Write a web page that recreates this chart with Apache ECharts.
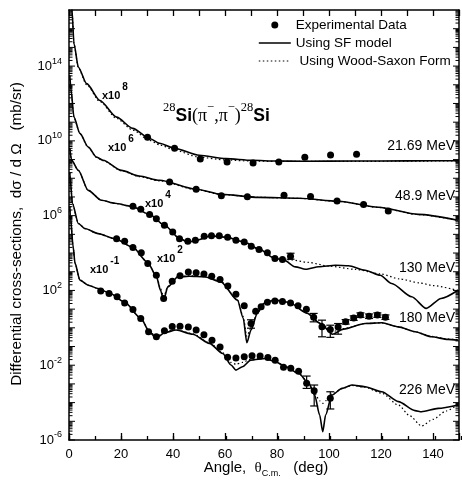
<!DOCTYPE html>
<html><head><meta charset="utf-8">
<script src="https://cdn.jsdelivr.net/npm/echarts@6/dist/echarts.min.js"></script>
<style>html,body{margin:0;padding:0;background:#fff}#c{width:462px;height:481px}</style>
</head><body><div id="c"></div>
<script>
// ---- Data: [angle (deg), log10(dσ/dΩ in mb/sr, incl. plotted scale factor)] ----
const sf21 = [[0.5,18.5],[1.15,17.0],[1.9,15.21],[3.6,13.94],[6.8,13.06],[11.9,12.16],[18.3,11.27],[24.5,10.67],[31,10.13],[34.8,9.87],[40.6,9.60],[50.1,9.23],[60.4,9.05],[70.4,8.96],[80,8.92],[90,8.91],[110,8.92],[130,8.93],[150,8.94]];
const ws21 = [[0.5,18.5],[1.15,17.0],[1.9,15.2],[3.6,13.9],[6.8,13.0],[11.9,12.1],[18.3,11.2],[24.5,10.58],[31,10.03],[35,9.78],[40.6,9.5],[50,9.13],[60,8.98],[70,8.92],[80,8.9],[100,8.9],[150,8.93]];
const exp21 = [[30.2,10.19],[40.6,9.60],[50.5,9.03],[60.8,8.87],[70.8,8.82],[80.7,8.87],[90.7,9.13],[100.6,9.24],[110.6,9.29]];

const sf48 = [[0.3,13.5],[0.8,12.70],[1.9,11.27],[4.2,10.40],[7.4,9.67],[10.6,9.13],[13.1,8.96],[20.2,8.42],[27,8.12],[34.8,7.89],[49,7.41],[58.6,7.14],[73,6.98],[88.4,6.93],[103.7,6.77],[119,6.45],[134.3,6.07],[149.6,5.75]];
const ws48 = [[0.3,13.5],[0.8,12.68],[1.9,11.25],[4.2,10.38],[7.4,9.65],[10.6,9.11],[13.1,8.94],[20.2,8.40],[27,8.09],[34.8,7.86],[49,7.39],[58.6,7.13],[73,6.98],[88.4,6.92],[103.7,6.76],[119,6.44],[134.3,6.06],[149.6,5.74]];
const exp48 = [[38.7,7.80],[48.9,7.41],[58.6,7.06],[68.6,7.01],[82.7,7.09],[92.9,7.03],[103.1,6.78],[113.3,6.59],[122.8,6.25]];

const sf130 = [[0.3,9.6],[1.0,8.96],[3.6,8.42],[7.4,7.35],[12.5,6.82],[17.6,6.66],[24.0,6.50],[31.0,6.07],[36.7,5.49],[42.5,4.79],[45.7,4.58],[48.6,4.66],[54.7,4.92],[60.8,4.84],[67.4,4.58],[73.1,4.20],[79.2,3.72],[82.7,3.62],[87.1,3.26],[91.0,3.13],[96.1,3.27],[102.5,3.35],[107.5,3.32],[113.9,3.08],[119.7,2.81],[124.1,2.37],[131.8,1.66],[137.4,1.04],[143.1,1.57],[149.6,2.01]];
const ws130 = [[0.3,9.6],[1.0,8.96],[3.6,8.42],[7.4,7.35],[12.5,6.82],[17.6,6.66],[24.0,6.50],[31.0,6.07],[36.7,5.49],[42.5,4.79],[45.7,4.6],[48.6,4.68],[54.7,4.92],[60.8,4.84],[67.4,4.6],[73.1,4.22],[79.2,3.75],[85,3.64],[92,3.5],[100,3.3],[110,3.13],[120,2.88],[127,2.62],[135,2.4],[140,2.26],[150,1.98]];
const exp130 = [[24.6,6.50],[27.6,6.34],[31.0,6.06],[33.6,5.84],[36.7,5.49],[39.9,5.13],[42.5,4.77],[45.7,4.63],[48.6,4.68],[52.0,4.90],[54.8,4.92],[57.8,4.92],[61.0,4.84],[64.2,4.68],[67.4,4.59],[70.1,4.36],[73.1,4.19],[76.3,4.01],[79.2,3.71],[82.1,3.65],[85.2,3.83]];

const sf180 = [[0.3,8.3],[0.5,7.89],[1.3,6.66],[3.6,5.58],[6.1,5.31],[11.2,5.04],[17.6,4.77],[24.5,4.31],[30.2,3.51],[33.6,2.76],[35.2,2.01],[36.4,1.48],[38.0,2.19],[41.8,2.72],[46.3,2.76],[52.0,2.73],[58.4,2.46],[64.8,1.48],[67.0,0.52],[68.4,-0.80],[70.0,-0.12],[72.4,0.77],[75.0,1.30],[78.8,1.48],[84.6,1.37],[91.5,0.78],[96.7,0.23],[101.4,-0.34],[105.6,-0.07],[113.9,0.23],[120.3,0.27],[126.7,0.05],[133.1,-0.21],[139.4,-0.48],[145.8,-0.62],[149.6,-0.66]];
const ws180 = [[0.3,8.3],[0.5,7.89],[1.3,6.66],[3.6,5.58],[6.1,5.31],[11.2,5.04],[17.6,4.77],[24.5,4.31],[30.2,3.51],[33.6,2.78],[35.2,2.1],[36.4,1.65],[38.0,2.22],[41.8,2.73],[46.3,2.78],[52.0,2.75],[58.4,2.48],[64.8,1.5],[67.0,0.6],[68.4,-0.45],[70.0,0.0],[72.4,0.8],[75.0,1.31],[78.8,1.48],[84.6,1.37],[91.5,0.8],[96.7,0.26],[101.4,-0.2],[105.6,-0.04],[113.9,0.23],[120.3,0.27],[126.7,0.05],[133.1,-0.21],[139.4,-0.46],[145.8,-0.6],[149.6,-0.64]];
const exp180 = [[18.3,4.77],[21.4,4.63],[24.6,4.29],[27.8,4.01],[30.3,3.44],[33.6,2.81],[36.4,1.57],[39.7,2.49],[42.7,2.79],[45.9,2.99],[48.9,2.95],[51.9,2.88],[54.9,2.76],[58.1,2.58],[61.1,2.24],[64.2,1.80],[67.4,1.18],[70.0,0.23],[71.8,0.89],[73.9,1.13],[76.3,1.37],[79.2,1.43],[82.1,1.41],[85.2,1.33],[88.1,1.18],[91.3,1.0],[94.1,0.57],[97.3,0.06],[100.5,-0.09],[103.5,0.04],[106.4,0.32],[109.5,0.52],[112.1,0.68],[115.4,0.62],[118.6,0.68],[121.7,0.57]];

const sf226 = [[0.3,6.5],[0.5,6.02],[1.6,4.33],[2.3,3.46],[4.2,2.55],[7.4,2.28],[11.2,2.10],[15.7,1.85],[21.4,1.37],[27.6,0.52],[31.0,-0.23],[33.6,-0.55],[36.7,-0.26],[41.2,-0.12],[47.6,-0.34],[54.0,-0.83],[59.1,-1.37],[62.3,-1.99],[64.2,-2.26],[66.7,-2.08],[69.9,-1.73],[75.7,-1.64],[79.5,-1.82],[83.3,-2.08],[88.4,-2.44],[92.2,-2.97],[94.5,-3.60],[96.4,-4.66],[97.6,-5.56],[98.7,-4.66],[101.1,-3.60],[105.0,-3.24],[108.8,-3.06],[113.9,-3.15],[120.3,-3.42],[126.7,-3.95],[133.1,-4.43],[135.6,-4.49],[142.0,-4.31],[149.6,-4.13]];
const ws226 = [[0.3,6.5],[0.5,6.02],[1.6,4.33],[2.3,3.46],[4.2,2.55],[7.4,2.28],[11.2,2.10],[15.7,1.85],[21.4,1.37],[27.6,0.52],[31.0,-0.2],[33.6,-0.48],[36.7,-0.22],[41.2,-0.1],[47.6,-0.32],[54.0,-0.8],[59.1,-1.33],[62.3,-1.85],[64.2,-1.95],[66.7,-1.85],[69.9,-1.68],[75.7,-1.63],[79.5,-1.82],[83.3,-2.08],[88.4,-2.44],[92.2,-2.97],[94.5,-3.5],[96.4,-3.9],[97.6,-4.04],[98.7,-3.9],[101.1,-3.55],[105.0,-3.26],[108.8,-3.08],[113.9,-3.18],[120.3,-3.5],[126.7,-4.13],[131,-4.7],[135.6,-5.25],[140,-4.9],[145,-4.45],[149.6,-4.08]];
const exp226 = [[12.2,1.97],[15.4,1.84],[18.5,1.66],[21.4,1.33],[24.6,0.98],[27.6,0.50],[30.6,-0.21],[33.6,-0.48],[36.7,-0.16],[39.7,0.07],[42.7,0.09],[45.9,0.05],[48.9,-0.11],[51.9,-0.37],[55.0,-0.66],[58.1,-1.02],[61.0,-1.58],[64.2,-1.61],[67.4,-1.55],[70.4,-1.49],[73.5,-1.51],[76.5,-1.59],[79.3,-1.74],[82.5,-2.11],[85.3,-2.16],[88.3,-2.32],[91.4,-2.96],[94.3,-3.37],[100.5,-3.77]];

// error bars: [angle, low, high] (log10)
const errBars = [[85.2,3.67,3.99],
  [70.0,-0.02,0.43],[94.1,0.32,0.77],[97.3,-0.48,0.41],[100.5,-0.51,0.14],[103.5,-0.34,0.23],
  [106.4,0.2,0.44],[109.5,0.4,0.64],[112.1,0.56,0.8],[115.4,0.5,0.74],[118.6,0.56,0.8],[121.7,0.45,0.69],
  [91.4,-3.24,-2.58],[94.3,-4.18,-3.06],[100.5,-4.34,-3.42]];

const energyLabels = ['21.69 MeV','48.9 MeV','130 MeV','180 MeV','226 MeV'];
const scaleExps = ['8','6','4','2','-1'];
const yLabelExps = [-6,-2,2,6,10,14];
const seriesNames = ['Experimental Data','Using SF model',' Using Wood-Saxon Form'];

const FONT = 'Liberation Sans, Arial, sans-serif';
const SERIF = 'Liberation Serif, Times New Roman, serif';
const BLACK = '#000';

const sets = [
  {sf:sf21, ws:ws21, exp:exp21},
  {sf:sf48, ws:ws48, exp:exp48},
  {sf:sf130, ws:ws130, exp:exp130},
  {sf:sf180, ws:ws180, exp:exp180},
  {sf:sf226, ws:ws226, exp:exp226}
];

const series = [];
sets.forEach(s => {
  series.push({name:seriesNames[0], type:'scatter', data:s.exp, symbol:'circle', symbolSize:7,
    itemStyle:{color:BLACK, opacity:1}, z:6, silent:true});
});
sets.forEach(s => {
  series.push({name:seriesNames[1], type:'line', data:s.sf, symbol:'none', showSymbol:false,
    smooth:0.25, smoothMonotone:'x',
    lineStyle:{color:BLACK, width:1.6}, itemStyle:{color:BLACK}, z:4, silent:true, clip:true});
  series.push({name:seriesNames[2], type:'line', data:s.ws, symbol:'none', showSymbol:false,
    smooth:0.25, smoothMonotone:'x',
    lineStyle:{color:BLACK, width:1.2, type:[1.5,2.5]}, itemStyle:{color:BLACK}, z:3, silent:true, clip:true});
});
series.push({name:'errbars', type:'custom', data:errBars, z:5, silent:true,
  encode:{x:0, y:[1,2]},
  renderItem:(params, api) => {
    const x = api.value(0), lo = api.value(1), hi = api.value(2);
    const a = api.coord([x, hi]), b = api.coord([x, lo]); const w = 4;
    const st = {stroke:BLACK, lineWidth:1.2};
    return {type:'group', children:[
      {type:'line', shape:{x1:a[0],y1:a[1],x2:b[0],y2:b[1]}, style:st},
      {type:'line', shape:{x1:a[0]-w,y1:a[1],x2:a[0]+w,y2:a[1]}, style:st},
      {type:'line', shape:{x1:b[0]-w,y1:b[1],x2:b[0]+w,y2:b[1]}, style:st}]};
  }});
// logarithmic tick marks on left and right frame (axis decoration)
const Y_MIN = -6, Y_MAX = 17;
const yTickMarks = [];
for (let n = Y_MIN; n < Y_MAX; n++) for (let k = 1; k <= 9; k++) yTickMarks.push([0, n + Math.log10(k), k === 1 ? 1 : 0]);
series.push({name:'yticks', type:'custom', data:yTickMarks, z:2, silent:true,
  encode:{x:0, y:1},
  renderItem:(params, api) => {
    const y = api.coord([0, api.value(1)])[1];
    const cs = params.coordSys; const L = api.value(2) ? 6 : 3.5;
    const st = {stroke:BLACK, lineWidth:1};
    return {type:'group', children:[
      {type:'line', shape:{x1:cs.x, y1:y, x2:cs.x+L, y2:y}, style:st},
      {type:'line', shape:{x1:cs.x+cs.width-L, y1:y, x2:cs.x+cs.width, y2:y}, style:st}]};
  }});

const axLine = {show:true, onZero:false, lineStyle:{color:BLACK, width:1.5}};
const tickSt = {color:BLACK, width:1.3};

const option = {
  animation:false,
  backgroundColor:'#fff',
  grid:[{left:69, top:10, right:1, bottom:41, show:false},
        {left:69, top:10, right:1, bottom:41, show:false}],
  legend:{orient:'vertical', left:253, top:13, itemWidth:32, itemHeight:7, itemGap:4, selectedMode:false,
    textStyle:{fontSize:13.5, fontFamily:FONT, color:BLACK},
    data:[{name:seriesNames[0], icon:'circle', itemStyle:{color:BLACK, opacity:1}},
          {name:seriesNames[1], itemStyle:{opacity:0}, lineStyle:{color:BLACK, width:1.6}},
          {name:seriesNames[2], itemStyle:{opacity:0}, lineStyle:{color:BLACK, width:1.2, type:[1.5,2.5]}}]},
  xAxis:[
    {type:'value', gridIndex:0, min:0, max:150, interval:20, position:'bottom', axisLine:axLine,
     axisTick:{inside:true, length:7, lineStyle:tickSt},
     axisLabel:{formatter:v => (v % 20 === 0 && v < 150) ? String(v) : '', fontSize:13, fontFamily:FONT, color:BLACK, margin:8},
     splitLine:{show:false}},
    {type:'value', gridIndex:0, min:0, max:150, interval:10, position:'top', axisLine:axLine,
     axisTick:{inside:true, length:6, lineStyle:tickSt}, axisLabel:{show:false}, splitLine:{show:false}},
    {type:'value', gridIndex:1, min:0, max:150, interval:10, position:'bottom', axisLine:{show:false, onZero:false},
     axisTick:{inside:true, length:4, lineStyle:tickSt}, axisLabel:{show:false}, splitLine:{show:false}}
  ],
  yAxis:[
    {type:'value', gridIndex:0, min:Y_MIN, max:Y_MAX, interval:2, position:'left', axisLine:axLine,
     axisTick:{show:false}, splitLine:{show:false},
     axisLabel:{margin:7, color:BLACK,
       formatter:v => { const n = Math.round(v); return yLabelExps.indexOf(n) >= 0 ? '{b|10}{s|' + n + '}' : ''; },
       rich:{b:{fontSize:13, fontFamily:FONT, color:BLACK, lineHeight:19},
             s:{fontSize:9, fontFamily:FONT, color:BLACK, lineHeight:9, verticalAlign:'top'}}}},
    {type:'value', gridIndex:0, min:Y_MIN, max:Y_MAX, interval:2, position:'right', axisLine:axLine,
     axisTick:{show:false}, axisLabel:{show:false}, splitLine:{show:false}},
    {type:'value', gridIndex:1, min:Y_MIN, max:Y_MAX, show:false, axisLine:{onZero:false}}
  ],
  series:series,
  graphic:[]
};

const g = option.graphic;
g.push({type:'text', x:17, y:234, rotation:Math.PI/2, silent:true,
  style:{text:'Differential cross-sections,  d\u03c3 / d \u03a9   (mb/sr)', fontSize:15.3, fontFamily:FONT, fill:BLACK,
    textAlign:'center', textVerticalAlign:'middle', align:'center', verticalAlign:'middle'}});
g.push({type:'text', x:266, y:468, silent:true,
  style:{text:'{n|Angle,  }{t|\u03b8}{u|C.m.}{n|   (deg)}', fill:BLACK, textAlign:'center', textVerticalAlign:'middle', align:'center', verticalAlign:'middle',
    rich:{n:{fontSize:15, fontFamily:FONT, fill:BLACK, lineHeight:20},
          t:{fontSize:15, fontFamily:SERIF, fill:BLACK, lineHeight:20},
          u:{fontSize:9, fontFamily:FONT, fill:BLACK, lineHeight:10, verticalAlign:'bottom'}}}});
// title
g.push({type:'text', x:163, y:116, silent:true,
  style:{text:'{sup|28}{si|Si}{p|(\u03c0}{sup|\u2212}{p|,\u03c0}{sup|\u2212}{p|)}{sup|28}{si|Si}', fill:BLACK,
    textAlign:'left', textVerticalAlign:'middle', align:'left', verticalAlign:'middle',
    rich:{si:{fontSize:17.5, fontWeight:'bold', fontFamily:FONT, fill:BLACK, lineHeight:30},
          p:{fontSize:18, fontFamily:SERIF, fill:BLACK, lineHeight:30},
          sup:{fontSize:12.5, fontFamily:SERIF, fill:BLACK, lineHeight:12, verticalAlign:'top'}}}});
// energy labels
const eY = [146, 196, 268, 318, 390];
energyLabels.forEach((t, i) => g.push({type:'text', x:455, y:eY[i], silent:true,
  style:{text:t, fontSize:14, fontFamily:FONT, fill:BLACK, textAlign:'right', textVerticalAlign:'middle', align:'right', verticalAlign:'middle'}}));
// scale factor labels
const sPos = [[102,96],[108,148],[145,204],[157,259],[90,270]];
scaleExps.forEach((t, i) => g.push({type:'text', x:sPos[i][0], y:sPos[i][1], silent:true,
  style:{text:'{a|x10}{s|' + t + '}', fill:BLACK, textAlign:'left', textVerticalAlign:'middle', align:'left', verticalAlign:'middle',
    rich:{a:{fontSize:11, fontWeight:'bold', fontFamily:FONT, fill:BLACK, lineHeight:28},
          s:{fontSize:10, fontWeight:'bold', fontFamily:FONT, fill:BLACK, lineHeight:10, verticalAlign:'top', padding:[0,0,0,2]}}}}));

const chart = echarts.init(document.getElementById('c'), null, {renderer:'canvas'});
chart.setOption(option);
</script></body></html>
